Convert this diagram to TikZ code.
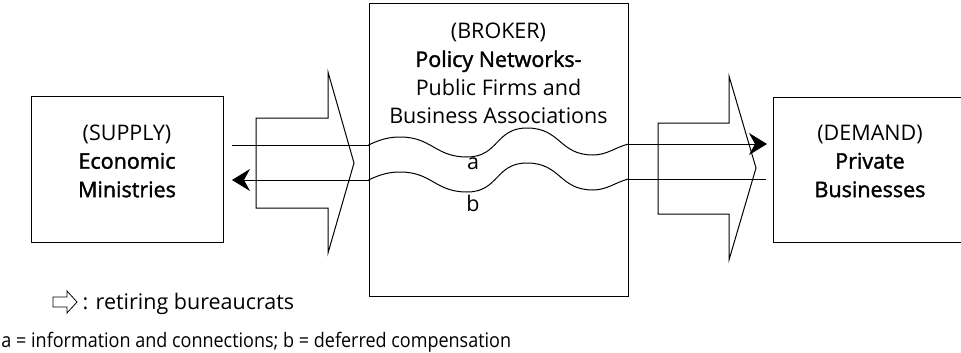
\documentclass[tikz,border=0pt]{standalone}
\usepackage{fontspec}
\setmainfont{Open Sans}
\newfontfamily\semibold[FakeBold=1.6]{Open Sans}
\newfontfamily\narrowfont[FakeStretch=0.9]{Open Sans}
\usetikzlibrary{arrows.meta}

\begin{document}
\begin{tikzpicture}[x = 1pt, y = -1pt, line width = 1pt,
    box/.style = {draw, minimum width = 192pt, minimum height = 146pt, inner sep = 0pt},
    boxtext/.style = {align = center, font = \fontsize{21.5}{28.5}\selectfont},
    flow/.style = {-{Stealth[length = 18pt, width = 22pt, inset = 6pt]}},
    retiree/.style = {draw, line join = miter}]
    \useasboundingbox (0,0) rectangle (961,353);
    % boxes
    \node[box] (supply) at (127,169) {};
    \node[box, minimum width = 259pt, minimum height = 292pt] (broker) at (498.5,150) {};
    \node[box, minimum width = 194pt, minimum height = 145pt] (demand) at (870,169.5) {};
    \node[boxtext] (supplytext) at (127,161) {(SUPPLY)\\{\semibold Economic}\\{\semibold Ministries}};
    \node[boxtext, anchor = north] (brokertext) at (498.5,19) {(BROKER)\\{\semibold Policy Networks-}\\Public Firms and\\Business Associations};
    \node[boxtext] (demandtext) at (870,161) {(DEMAND)\\{\semibold Private}\\{\semibold Businesses}};
    % retiring bureaucrats
    \draw[retiree] (256,118) -- (328,118) -- (328,72) -- (354,163) -- (328,253) -- (328,208) -- (256,208) -- cycle;
    \draw[retiree] (658,123) -- (729,123) -- (729,76) -- (756,168) -- (729,260) -- (729,214) -- (658,214) -- cycle;
    % flow a
    \coordinate (a0) at (232,145);
    \coordinate (a1) at (broker.west |- a0);
    \coordinate (a2) at (broker.east |- 0,144);
    \coordinate (a3) at (767,144);
    \draw (a0) -- (a1);
    \draw (a1) .. controls (381,139) and (390,137) .. (400,137)
        .. controls (432,137) and (435,157) .. (467,157)
        .. controls (499,157) and (495,128) .. (527,128)
        .. controls (561,128) and (559,155) .. (593,155)
        .. controls (607,155) and (616,147) .. (a2);
    \draw[flow] (a2) -- (a3);
    % flow b
    \coordinate (b0) at (232,180);
    \coordinate (b1) at (broker.west |- b0);
    \coordinate (b2) at (broker.east |- 0,179);
    \coordinate (b3) at (766,179);
    \draw[flow] (b1) -- (b0);
    \draw (b1) .. controls (381,174) and (390,172) .. (400,172)
        .. controls (432,172) and (435,192) .. (467,192)
        .. controls (499,192) and (495,163) .. (527,163)
        .. controls (561,163) and (559,190) .. (593,190)
        .. controls (607,190) and (616,182) .. (b2);
    \draw (b3) -- (b2);
    \node[font = \fontsize{21.5}{24}\selectfont] (alabel) at (473,164) {a};
    \node[font = \fontsize{21.5}{24}\selectfont] (blabel) at (473,203) {b};
    % legend
    \draw[retiree, line width = 0.8pt] (53,297) -- (67,297) -- (67,291) -- (77,302) -- (67,313) -- (67,307) -- (53,307) -- cycle;
    \node[anchor = base west, inner sep = 0pt, font = \fontsize{21.5}{24}\selectfont] (legend) at (82,309) {: retiring bureaucrats};
    \node[anchor = base west, inner sep = 0pt, font = \narrowfont\fontsize{20}{22}\selectfont] (key) at (1,347) {a = information and connections; b = deferred compensation};
\end{tikzpicture}
\end{document}
